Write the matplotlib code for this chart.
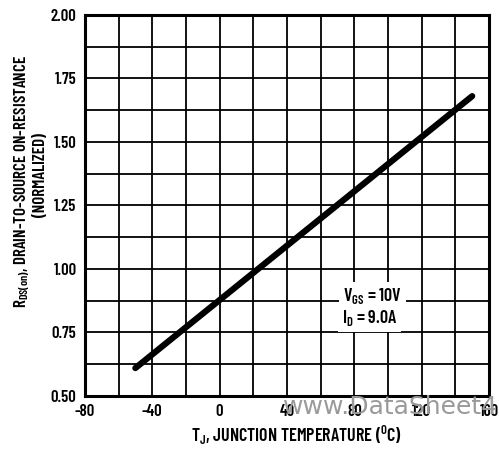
import matplotlib
matplotlib.use("Agg")
import matplotlib.pyplot as plt
import numpy as np

# Data
temps = [-50, 150]
rds_on = [0.61, 1.68]
x_ticks = [-80, -40, 0, 40, 80, 120, 160]
y_ticks = [0.50, 0.75, 1.00, 1.25, 1.50, 1.75, 2.00]
x_grid = list(range(-80, 161, 20))
y_grid = [0.5 + 0.125 * i for i in range(13)]

FAM = ['Barlow Condensed', 'Liberation Sans', 'DejaVu Sans']
plt.rcParams['font.family'] = FAM
plt.rcParams['mathtext.fontset'] = 'custom'
plt.rcParams['mathtext.rm'] = 'Barlow Condensed:semibold'
plt.rcParams['mathtext.it'] = 'Barlow Condensed:semibold'
plt.rcParams['mathtext.bf'] = 'Barlow Condensed:bold'
W = 'semibold'
FS = 12

fig = plt.figure(figsize=(4.99, 4.49), dpi=100)
ax = fig.add_axes([0.170, 0.118, 0.810, 0.849])

for xv in x_grid:
    ax.axvline(xv, color='black', lw=1.3, zorder=1)
for yv in y_grid:
    ax.axhline(yv, color='black', lw=1.3, zorder=1)

ax.plot(temps, rds_on, color='black', lw=4.5, solid_capstyle='round', zorder=3)

ax.set_xlim(-80, 160)
ax.set_ylim(0.5, 2.0)
ax.set_xticks(x_ticks)
ax.set_yticks(y_ticks)
ax.set_xticklabels([str(v) for v in x_ticks])
ax.set_yticklabels([f"{v:.2f}" for v in y_ticks])
ax.tick_params(length=0, pad=6, labelsize=FS)
for lab in ax.get_xticklabels() + ax.get_yticklabels():
    lab.set_fontweight(W)
for s in ax.spines.values():
    s.set_linewidth(2.2)

ax.text(91, 0.893, r"V$_{\mathregular{GS}}$ = 10V", fontsize=13, fontweight=W,
        ha='center', va='center', zorder=4,
        bbox=dict(facecolor='white', edgecolor='none', pad=3))
ax.text(89, 0.806, r"I$_{\mathregular{D}}$ = 9.0A", fontsize=13, fontweight=W,
        ha='center', va='center', zorder=4,
        bbox=dict(facecolor='white', edgecolor='none', pad=3))

fig.text(0.045, 0.597, r"R$_{\mathregular{DS(on)}}$, DRAIN-TO-SOURCE ON-RESISTANCE",
         rotation=90, ha='center', va='center', fontsize=12.3, fontweight=W)
fig.text(0.082, 0.610, "(NORMALIZED)", rotation=90, ha='center', va='center',
         fontsize=12.3, fontweight=W)
fig.text(0.595, 0.030, r"T$_{\mathregular{J}}$, JUNCTION TEMPERATURE ($^{\mathregular{O}}$C)",
         ha='center', va='center', fontsize=13, fontweight=W)

fig.text(0.80, 0.093, "www.DataSheet4U", ha='center', va='center', fontsize=18,
         color='#9a9a9a', family='DejaVu Sans', zorder=10)

fig.savefig("out.png", dpi=100, facecolor='white')
